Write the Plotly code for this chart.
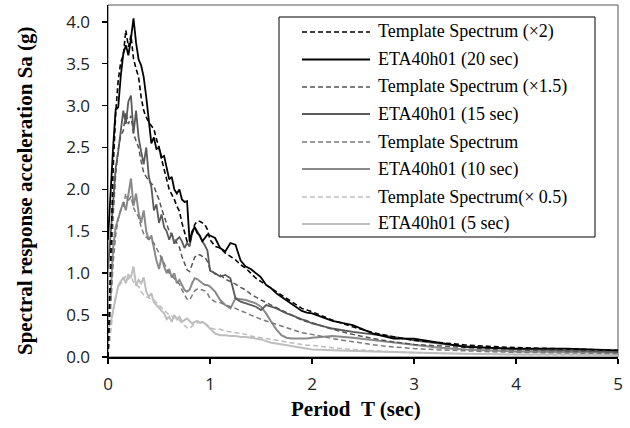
import plotly.graph_objects as go

# ---------------- data ----------------
period = [0, 0.025, 0.05, 0.075, 0.1, 0.125, 0.15, 0.175, 0.2, 0.225,
          0.25, 0.275, 0.3, 0.325, 0.35, 0.375, 0.4, 0.425, 0.45, 0.475,
          0.5, 0.525, 0.55, 0.575, 0.6, 0.625, 0.65, 0.675, 0.7, 0.725,
          0.75, 0.775, 0.8, 0.825, 0.85, 0.875, 0.9, 0.925, 0.95, 0.975, 1.0,
          1.05, 1.1, 1.15, 1.2, 1.25, 1.3, 1.35, 1.4, 1.45, 1.5,
          1.55, 1.6, 1.65, 1.7, 1.75, 1.8, 1.85, 1.9, 1.95, 2.0,
          2.2, 2.4, 2.6, 2.8, 3.0, 3.25, 3.5, 3.75, 4.0, 4.5, 5.0]

template_x2 = [0, 1.24, 2.24, 2.90, 3.30, 3.52, 3.60, 3.90, 3.70, 3.84,
               3.56, 3.44, 3.34, 3.10, 2.94, 2.86, 2.80, 2.76, 2.72, 2.60,
               2.50, 2.36, 2.24, 2.10, 2.00, 1.94, 1.88, 1.80, 1.74, 1.60,
               1.48, 1.38, 1.36, 1.48, 1.58, 1.62, 1.62, 1.60, 1.58, 1.52, 1.40,
               1.32, 1.30, 1.24, 1.20, 1.16, 1.10, 1.06, 1.00, 0.94, 0.90,
               0.86, 0.82, 0.78, 0.74, 0.70, 0.66, 0.62, 0.58, 0.56, 0.54,
               0.44, 0.36, 0.29, 0.24, 0.20, 0.17, 0.144, 0.126, 0.112, 0.096, 0.08]

eta_20s = [1.40, 2.00, 2.50, 2.95, 2.98, 3.35, 3.62, 3.72, 3.60, 3.80,
           4.04, 3.75, 3.55, 3.48, 3.34, 3.10, 2.85, 2.55, 2.62, 2.48,
           2.50, 2.38, 2.40, 2.25, 2.12, 2.15, 2.00, 1.95, 2.00, 1.88,
           1.85, 1.86, 1.38, 1.50, 1.55, 1.48, 1.45, 1.38, 1.42, 1.46, 1.45,
           1.42, 1.30, 1.26, 1.36, 1.34, 1.15, 1.08, 1.05, 1.00, 0.95,
           0.86, 0.82, 0.76, 0.72, 0.68, 0.64, 0.60, 0.55, 0.53, 0.52,
           0.43, 0.38, 0.28, 0.22, 0.22, 0.17, 0.12, 0.11, 0.10, 0.10, 0.08]

template_x15 = [0, 0.93, 1.68, 2.18, 2.48, 2.64, 2.70, 2.92, 2.78, 2.88,
                2.67, 2.58, 2.50, 2.33, 2.20, 2.15, 2.10, 2.07, 2.04, 1.95,
                1.88, 1.77, 1.68, 1.58, 1.50, 1.46, 1.41, 1.35, 1.31, 1.20,
                1.11, 1.04, 1.02, 1.11, 1.19, 1.22, 1.22, 1.20, 1.19, 1.14, 1.05,
                0.99, 0.98, 0.93, 0.90, 0.87, 0.83, 0.80, 0.75, 0.71, 0.68,
                0.65, 0.62, 0.59, 0.56, 0.53, 0.50, 0.47, 0.44, 0.42, 0.41,
                0.33, 0.27, 0.22, 0.18, 0.15, 0.13, 0.11, 0.095, 0.084, 0.072, 0.06]

eta_15s = [1.05, 1.45, 1.95, 2.25, 2.45, 2.67, 2.94, 2.78, 3.05, 3.12,
           2.67, 2.94, 2.62, 2.45, 2.30, 2.50, 2.15, 2.03, 1.75, 1.82,
           1.60, 1.70, 1.55, 1.50, 1.40, 1.48, 1.35, 1.40, 1.43, 1.38,
           1.30, 1.36, 1.32, 1.48, 1.55, 1.50, 1.43, 1.38, 1.33, 1.27, 1.03,
           1.00, 0.96, 0.98, 0.94, 0.70, 0.66, 0.64, 0.62, 0.60, 0.56,
           0.62, 0.60, 0.58, 0.55, 0.52, 0.50, 0.47, 0.45, 0.43, 0.40,
           0.34, 0.30, 0.27, 0.24, 0.20, 0.16, 0.13, 0.11, 0.09, 0.08, 0.06]

template_x1 = [0, 0.62, 1.12, 1.45, 1.65, 1.76, 1.80, 1.95, 1.85, 1.92,
               1.78, 1.72, 1.67, 1.55, 1.47, 1.43, 1.40, 1.38, 1.36, 1.30,
               1.25, 1.18, 1.12, 1.05, 1.00, 0.97, 0.94, 0.90, 0.87, 0.80,
               0.74, 0.69, 0.68, 0.74, 0.79, 0.81, 0.81, 0.80, 0.79, 0.76, 0.70,
               0.66, 0.65, 0.62, 0.60, 0.58, 0.55, 0.53, 0.50, 0.47, 0.45,
               0.43, 0.41, 0.39, 0.37, 0.35, 0.33, 0.31, 0.29, 0.28, 0.27,
               0.22, 0.18, 0.145, 0.12, 0.10, 0.085, 0.072, 0.063, 0.056, 0.048, 0.04]

eta_10s = [0.70, 0.72, 1.30, 1.55, 1.65, 1.75, 1.85, 1.75, 1.95, 2.13,
           1.80, 1.95, 1.72, 1.60, 1.75, 1.50, 1.40, 1.45, 1.30, 1.15,
           1.05, 1.20, 1.08, 1.00, 1.05, 0.95, 1.00, 0.88, 0.92, 0.85,
           0.80, 0.78, 0.80, 0.88, 0.94, 0.93, 0.90, 0.88, 0.86, 0.86, 0.84,
           0.78, 0.68, 0.62, 0.58, 0.70, 0.69, 0.68, 0.66, 0.64, 0.60,
           0.52, 0.42, 0.33, 0.26, 0.23, 0.22, 0.22, 0.22, 0.22, 0.23,
           0.25, 0.23, 0.20, 0.17, 0.14, 0.11, 0.09, 0.075, 0.065, 0.06, 0.05]

template_x05 = [0, 0.31, 0.56, 0.73, 0.83, 0.88, 0.90, 0.98, 0.93, 0.96,
                0.89, 0.86, 0.84, 0.78, 0.74, 0.72, 0.70, 0.69, 0.68, 0.65,
                0.63, 0.59, 0.56, 0.53, 0.50, 0.49, 0.47, 0.45, 0.44, 0.40,
                0.37, 0.35, 0.34, 0.37, 0.40, 0.41, 0.41, 0.40, 0.40, 0.38, 0.35,
                0.33, 0.33, 0.31, 0.30, 0.29, 0.28, 0.27, 0.25, 0.24, 0.23,
                0.22, 0.21, 0.20, 0.19, 0.18, 0.17, 0.16, 0.15, 0.14, 0.14,
                0.11, 0.09, 0.073, 0.06, 0.05, 0.043, 0.036, 0.032, 0.028, 0.024, 0.02]

eta_5s = [0.35, 0.40, 0.55, 0.70, 0.85, 0.90, 0.95, 0.88, 0.98, 0.95,
          1.08, 0.85, 0.92, 0.88, 0.95, 0.78, 0.72, 0.76, 0.65, 0.62,
          0.58, 0.55, 0.52, 0.45, 0.48, 0.42, 0.50, 0.45, 0.48, 0.42,
          0.44, 0.46, 0.43, 0.40, 0.42, 0.43, 0.41, 0.42, 0.40, 0.37, 0.33,
          0.28, 0.26, 0.26, 0.25, 0.25, 0.24, 0.24, 0.23, 0.22, 0.21,
          0.19, 0.17, 0.16, 0.15, 0.14, 0.13, 0.12, 0.11, 0.10, 0.09,
          0.08, 0.07, 0.065, 0.06, 0.05, 0.045, 0.04, 0.035, 0.03, 0.03, 0.025]

series_names = ["Template Spectrum (\u00d72)", "ETA40h01 (20 sec)",
                "Template Spectrum (\u00d71.5)", "ETA40h01 (15 sec)",
                "Template Spectrum", "ETA40h01 (10 sec)",
                "Template Spectrum(\u00d7 0.5)", "ETA40h01 (5 sec)"]
series_values = [template_x2, eta_20s, template_x15, eta_15s,
                 template_x1, eta_10s, template_x05, eta_5s]

x_ticks = [0, 1, 2, 3, 4, 5]
y_ticks = [0.0, 0.5, 1.0, 1.5, 2.0, 2.5, 3.0, 3.5, 4.0]

for v in series_values:
    assert len(v) == len(period), len(v)

# ---------------- styles ----------------
styles = [
    dict(color="#000000", width=1.6, dash="5px,3px"),
    dict(color="#000000", width=1.8, dash="solid"),
    dict(color="#555555", width=1.5, dash="5px,3px"),
    dict(color="#5a5a5a", width=1.8, dash="solid"),
    dict(color="#7a7a7a", width=1.5, dash="5px,3px"),
    dict(color="#8a8a8a", width=2.0, dash="solid"),
    dict(color="#bdbdbd", width=1.5, dash="5px,3px"),
    dict(color="#bebebe", width=2.0, dash="solid"),
]

W, H = 630, 428
L, R, T_, B = 108, 12, 5, 71
PW, PH = W - L - R, H - T_ - B


def px_x(p):
    return (p - L) / PW


def px_y(p):
    return (H - B - p) / PH


fig = go.Figure()
for name, vals, st in reversed(list(zip(series_names, series_values, styles))):
    fig.add_trace(go.Scatter(x=period, y=vals, mode="lines", name=name,
                             line=st, showlegend=False, hoverinfo="skip"))

shapes = []
annotations = []

# plot frame (top/right in gray)
shapes.append(dict(type="rect", xref="paper", yref="paper", x0=0, x1=1, y0=0, y1=1,
                   line=dict(color="#555555", width=1), layer="below"))

# manual legend
shapes.append(dict(type="rect", xref="paper", yref="paper",
                   x0=px_x(279), x1=px_x(595), y0=px_y(237), y1=px_y(17),
                   line=dict(color="#000000", width=1), fillcolor="white", layer="above"))
rows = [32, 59.5, 87, 114, 142, 169, 197, 224]
for rowy, name, st in zip(rows, series_names, styles):
    shapes.append(dict(type="line", xref="paper", yref="paper",
                       x0=px_x(302), x1=px_x(370), y0=px_y(rowy), y1=px_y(rowy),
                       line=dict(color=st["color"], width=st["width"], dash=st["dash"]),
                       layer="above"))
    annotations.append(dict(xref="paper", yref="paper", x=px_x(376), y=px_y(rowy),
                            xanchor="left", yanchor="middle", showarrow=False,
                            text=name, font=dict(family="Liberation Serif", size=18, color="black")))

# axis titles
annotations.append(dict(xref="paper", yref="paper", x=px_x(356), y=px_y(409),
                        xanchor="center", yanchor="middle", showarrow=False,
                        text="<b>Period\u00a0\u00a0T (sec)</b>",
                        font=dict(family="Liberation Serif", size=21, color="black")))
annotations.append(dict(xref="paper", yref="paper", x=px_x(25), y=px_y(191),
                        xanchor="center", yanchor="middle", showarrow=False, textangle=-90,
                        text="<b>Spectral response acceleration Sa (g)</b>",
                        font=dict(family="Liberation Serif", size=21, color="black")))

tickfont = dict(family="Open Sans", size=17, color="#222222")
fig.update_layout(
    width=W, height=H,
    margin=dict(l=L, r=R, t=T_, b=B, pad=0),
    paper_bgcolor="white", plot_bgcolor="white",
    shapes=shapes, annotations=annotations,
    showlegend=False,
    xaxis=dict(range=[0, 5], tickvals=x_ticks, ticktext=[str(v) for v in x_ticks],
               showline=True, linecolor="black", linewidth=1.5,
               ticks="outside", ticklen=5, tickcolor="black", tickwidth=1.5,
               showgrid=False, zeroline=False, tickfont=tickfont, ticklabelstandoff=6),
    yaxis=dict(range=[0, 4.2], tickvals=y_ticks, ticktext=["%.1f" % v for v in y_ticks],
               showline=True, linecolor="black", linewidth=1.5,
               ticks="outside", ticklen=5, tickcolor="black", tickwidth=1.5,
               showgrid=False, zeroline=False, tickfont=tickfont, ticklabelstandoff=8),
)

fig.write_html("out.html",
               config={"displayModeBar": False, "staticPlot": True},
               post_script="document.body.style.margin='0px';document.body.style.overflow='hidden';")
